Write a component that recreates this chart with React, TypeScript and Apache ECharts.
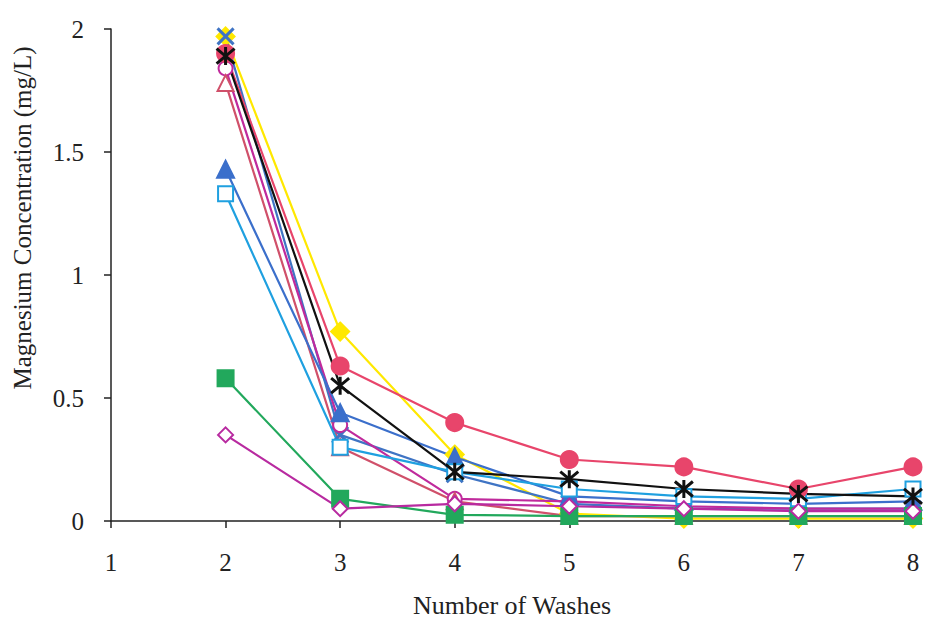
import React, { useEffect, useRef } from "react";
import * as echarts from "echarts";

const washes = [2, 3, 4, 5, 6, 7, 8];
const xTicks = [1, 2, 3, 4, 5, 6, 7, 8];
const yTicks = [0, 0.5, 1, 1.5, 2];

const yellowDiamond = [1.97, 0.77, 0.27, 0.03, 0.01, 0.01, 0.01];
const blueCross = [1.97, 0.35, 0.19, 0.07, 0.05, 0.05, 0.05];
const pinkCircle = [1.9, 0.63, 0.4, 0.25, 0.22, 0.13, 0.22];
const blackStar = [1.89, 0.55, 0.2, 0.17, 0.13, 0.11, 0.1];
const magentaCircle = [1.84, 0.39, 0.09, 0.08, 0.06, 0.05, 0.05];
const redTriangle = [1.78, 0.3, 0.08, 0.02, 0.02, 0.02, 0.02];
const blueTriangle = [1.43, 0.44, 0.26, 0.1, 0.08, 0.07, 0.08];
const cyanSquare = [1.33, 0.3, 0.2, 0.13, 0.1, 0.09, 0.13];
const greenSquare = [0.58, 0.09, 0.025, 0.02, 0.02, 0.02, 0.02];
const magentaDiamond = [0.35, 0.05, 0.07, 0.06, 0.05, 0.04, 0.04];

const CROSS = "path://M0,0L10,10M10,0L0,10";
const STAR = "path://M0,0L10,10M10,0L0,10M5,-1L5,11";

export default function App() {
  const ref = useRef<HTMLDivElement>(null);
  useEffect(() => {
    if (!ref.current) return;
    const chart = echarts.init(ref.current, undefined, { renderer: "svg" });
    const font = "Liberation Serif";
    const mk = (
      name: string,
      vals: number[],
      color: string,
      symbol: string,
      size: number,
      opts: any = {}
    ) => ({
      name,
      type: "line",
      data: washes.map((w, i) => [w, vals[i]]),
      symbol,
      symbolSize: size,
      lineStyle: { color, width: 2.2 },
      itemStyle: { color, borderColor: color, borderWidth: opts.bw ?? 2 },
    });
    const strokeSym = (name: string, vals: number[], color: string, symbol: string, size: number) => ({
      name,
      type: "line",
      data: washes.map((w, i) => [w, vals[i]]),
      symbol,
      symbolSize: size,
      lineStyle: { color, width: 2.2 },
      itemStyle: { color: "rgba(0,0,0,0)", borderColor: color, borderWidth: 3 },
    });
    chart.setOption({
      animation: false,
      backgroundColor: "#ffffff",
      grid: {
        left: 111,
        right: 16,
        top: 29,
        bottom: 98,
        containLabel: false,
        outerBoundsMode: "none",
      },
      xAxis: {
        type: "value",
        min: 1,
        max: 8,
        interval: 1,
        name: "Number of Washes",
        nameLocation: "middle",
        nameGap: 71,
        nameTextStyle: { fontFamily: font, fontSize: 26, color: "#222" },
        axisLine: { onZero: false, lineStyle: { color: "#222", width: 1.5 } },
        axisTick: { show: true, length: 7, lineStyle: { color: "#222", width: 1.5 } },
        axisLabel: {
          margin: 29,
          fontFamily: font,
          fontSize: 25,
          color: "#222",
          formatter: (v: number) => (xTicks.includes(v) ? String(v) : ""),
        },
        splitLine: { show: false },
      },
      yAxis: {
        type: "value",
        min: 0,
        max: 2,
        interval: 0.5,
        axisLine: { show: true, lineStyle: { color: "#222", width: 1.5 } },
        axisTick: { show: true, length: 7, lineStyle: { color: "#222", width: 1.5 } },
        axisLabel: {
          margin: 27,
          fontFamily: font,
          fontSize: 25,
          color: "#222",
          formatter: (v: number) => (yTicks.includes(v) ? String(v) : ""),
        },
        splitLine: { show: false },
      },
      graphic: [
        {
          type: "text",
          x: 22,
          y: 218,
          rotation: Math.PI / 2,
          style: {
            text: "Magnesium Concentration (mg/L)",
            fontFamily: font,
            fontSize: 25,
            fill: "#222",
            align: "center",
            verticalAlign: "middle",
          },
        },
      ],
      series: [
        mk("Yellow", yellowDiamond, "#FFE800", "diamond", 18),
        strokeSym("Blue X", blueCross, "#3F74C4", CROSS, 16),
        mk("Magenta circle", magentaCircle, "#C02A9C", "emptyCircle", 14, { bw: 2.5 }),
        mk("Red triangle", redTriangle, "#D0506A", "emptyTriangle", 16, { bw: 2.5 }),
        mk("Blue triangle", blueTriangle, "#3B6FCB", "triangle", 17),
        mk("Cyan square", cyanSquare, "#1FA0E0", "emptyRect", 15, { bw: 2.5 }),
        mk("Green", greenSquare, "#22A85C", "rect", 16),
        mk("Magenta diamond", magentaDiamond, "#B82AA0", "emptyDiamond", 15, { bw: 2.5 }),
        mk("Pink", pinkCircle, "#E8456B", "circle", 17),
        strokeSym("Black", blackStar, "#111111", STAR, 18),
      ],
    });
    return () => chart.dispose();
  }, []);
  return (
    <div
      ref={ref}
      style={{ position: "absolute", left: 0, top: 0, width: 929, height: 619 }}
    />
  );
}
